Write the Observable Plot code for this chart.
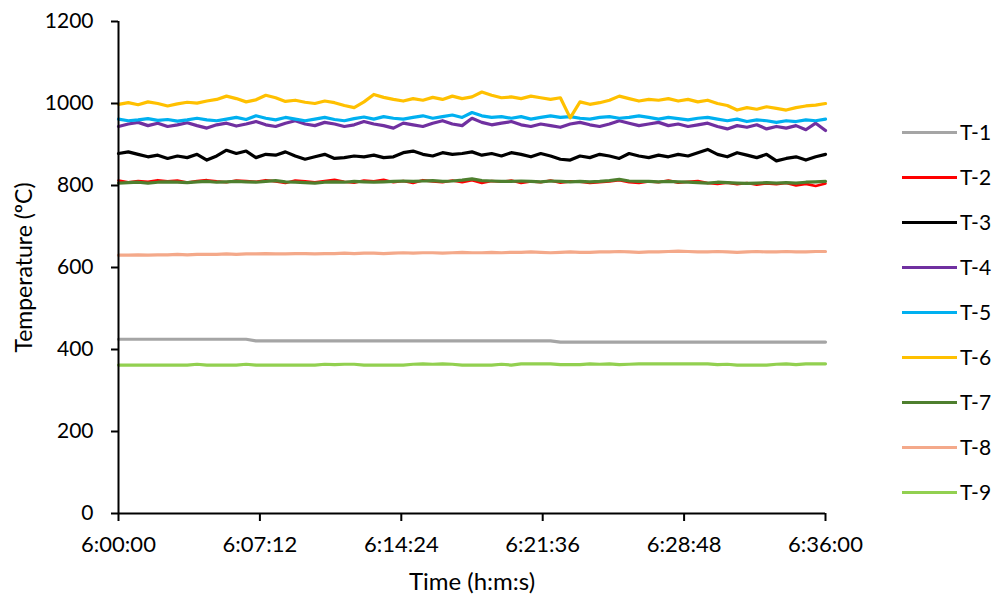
<!DOCTYPE html>
<html>
<head>
<meta charset="utf-8">
<script src="https://cdn.jsdelivr.net/npm/d3@7"></script>
<script src="https://cdn.jsdelivr.net/npm/@observablehq/plot@0.6"></script>
<style>
  body { margin: 0; background: #fff; font-family: Lato, "Open Sans", sans-serif; }
  #wrap { position: relative; width: 995px; height: 598px; }
  #legend { position: absolute; left: 902px; top: 0; }
  .item { position: absolute; left: 0; width: 100px; height: 24px; }
  .item .sw { position: absolute; left: 0; top: 10.5px; width: 55px; height: 3.5px; }
  .item .lb { position: absolute; left: 58px; top: 0; font-size: 21px; line-height: 24px; color: #000; }
</style>
</head>
<body>
<div id="wrap"><div id="legend"></div></div>
<script>
// time in seconds after 6:00:00, sampled every 30 s
const times = d3.range(0, 2161, 30);
const seriesNames = ["T-1","T-2","T-3","T-4","T-5","T-6","T-7","T-8","T-9"];
const seriesColors = ["#A5A5A5","#FF0000","#000000","#7030A0","#00B0F0","#FFC000","#4E7F2E","#F4A98A","#92D050"];
const xTicks = [0, 432, 864, 1296, 1728, 2160];
const yTicks = [0, 200, 400, 600, 800, 1000, 1200];
const xTitle = "Time (h:m:s)";
const yTitle = "Temperature (ºC)";

const T1 = [425,425,425,425,425,425,425,425,425,425, 425,425,425,425,421,421,421,421,421,421,
            421,421,421,421,421,421,421,421,421,421, 421,421,421,421,421,421,421,421,421,421,
            421,421,421,421,421,418,418,418,418,418, 418,418,418,418,418,418,418,418,418,418,
            418,418,418,418,418,418,418,418,418,418, 418,418,418];
const T2 = [812,808,811,809,813,810,812,807,811,813, 810,808,812,811,809,813,810,806,812,810,
            808,811,814,809,807,812,810,814,808,811, 806,813,810,808,812,808,813,806,811,809,
            812,806,810,808,812,807,810,809,806,808, 810,813,808,806,810,808,812,807,809,811,
            806,804,807,803,806,802,805,803,806,800, 804,799,805];
const T3 = [878,882,876,870,874,866,872,868,876,862, 872,886,878,884,868,876,874,882,872,864,
            870,876,866,868,872,870,874,868,870,880, 884,876,872,880,876,878,882,874,878,872,
            880,876,870,878,872,864,862,872,868,876, 872,866,878,872,868,874,870,876,872,880,
            888,876,870,880,874,868,876,860,866,870, 862,870,876];
const T4 = [944,950,954,946,952,944,948,953,946,940, 948,952,945,950,956,948,944,952,958,950,
            946,954,950,944,948,956,950,946,940,952, 948,944,952,958,950,946,964,954,948,952,
            956,948,944,950,946,942,950,954,948,944, 950,958,952,946,950,954,946,950,944,948,
            952,944,938,946,942,948,938,944,940,946, 936,952,934];
const T5 = [962,958,960,963,959,961,957,960,964,960, 958,962,966,961,970,964,960,966,962,958,
            962,966,961,958,963,967,962,968,964,962, 966,970,964,968,972,966,978,970,966,968,
            964,968,962,966,970,966,968,964,962,966, 968,964,966,970,966,962,966,963,960,964,
            966,962,958,962,956,960,958,954,958,956, 960,958,962];
const T6 = [998,1002,997,1004,1000,994,999,1003,1001,1006, 1010,1018,1012,1004,1009,1020,1014,1005,1008,1003,
            1000,1006,1002,995,990,1004,1022,1015,1010,1006, 1012,1008,1015,1010,1018,1012,1016,1028,1020,1014,
            1016,1012,1018,1014,1010,1014,965,1004,998,1002, 1008,1018,1012,1006,1010,1008,1012,1006,1010,1004,
            1008,1000,995,984,990,986,992,988,984,990, 994,996,1000];
const T7 = [806,807,808,806,808,809,808,807,809,810, 808,809,810,809,808,810,812,809,808,807,
            806,808,809,808,810,809,808,809,810,811, 810,811,812,810,811,813,816,812,811,810,
            810,811,810,809,811,810,809,810,809,810, 812,815,811,810,810,809,810,809,808,807,
            806,808,807,806,805,806,807,806,807,806, 808,809,810];
const T8 = [630,630,631,630,631,631,632,631,632,632, 632,633,632,633,633,634,633,633,634,634,
            633,634,634,635,634,635,635,634,635,636, 635,636,636,635,636,637,636,636,637,636,
            637,637,638,637,636,637,638,637,637,638, 638,639,638,637,638,638,639,640,639,638,
            638,639,638,637,638,639,638,638,639,638, 638,639,639];
const T9 = [362,362,362,362,362,362,362,362,364,362, 362,362,362,364,362,362,362,362,362,362,
            362,364,363,364,364,362,362,362,362,362, 364,365,364,365,364,362,362,362,362,364,
            362,365,365,365,365,363,363,363,365,364, 365,363,364,365,365,365,365,365,365,365,
            365,363,364,362,362,362,362,364,365,363, 365,365,365];

const allSeries = [T1,T2,T3,T4,T5,T6,T7,T8,T9];
const widths = [3.2,2.6,3.2,3.2,3.2,3.2,3.2,3.2,3.2];

const rows = [];
allSeries.forEach((vals, k) => {
  vals.forEach((v, i) => rows.push({series: seriesNames[k], t: times[i], v}));
});

const fmt = s => {
  const m = Math.floor(s / 60), sec = s % 60;
  return `6:${String(m).padStart(2,"0")}:${String(sec).padStart(2,"0")}`;
};

const lineMarks = seriesNames.map((name, k) =>
  Plot.line(rows.filter(r => r.series === name), {
    x: "t", y: "v", stroke: seriesColors[k], strokeWidth: widths[k],
    strokeLinejoin: "round", strokeLinecap: "round"
  })
);

const chart = Plot.plot({
  width: 995, height: 598,
  marginLeft: 118, marginRight: 170, marginTop: 21, marginBottom: 85,
  style: { fontFamily: "Lato, 'Open Sans', sans-serif", fontSize: "20px", color: "#000", background: "#fff" },
  x: { domain: [0, 2160] },
  y: { domain: [0, 1200] },
  marks: [
    ...lineMarks,
    Plot.axisX({ ticks: xTicks, tickFormat: fmt, tickSize: 8, tickPadding: 15, strokeWidth: 2,
                 label: null, fontSize: 22 }),
    Plot.axisY({ ticks: yTicks, tickFormat: d => String(d), tickSize: 7, tickPadding: 18, strokeWidth: 2,
                 label: null, fontSize: 21 }),
    Plot.ruleX([0], { stroke: "#000", strokeWidth: 2 }),
    Plot.ruleY([0], { stroke: "#000", strokeWidth: 2 }),
    Plot.text([xTitle], { text: d => d, frameAnchor: "bottom", dy: 76, lineAnchor: "bottom", fontSize: 24, fill: "#000" }),
    Plot.text([yTitle], { text: d => d, frameAnchor: "left", textAnchor: "middle", dx: -94, rotate: -90, fontSize: 23, fill: "#000" })
  ]
});
document.getElementById("wrap").prepend(chart);

const legend = document.getElementById("legend");
seriesNames.forEach((name, k) => {
  const it = document.createElement("div");
  it.className = "item";
  it.style.top = (120 + k * 45) + "px";
  it.innerHTML = `<div class="sw" style="background:${seriesColors[k]}"></div><div class="lb">${name}</div>`;
  legend.appendChild(it);
});
</script>
</body>
</html>
